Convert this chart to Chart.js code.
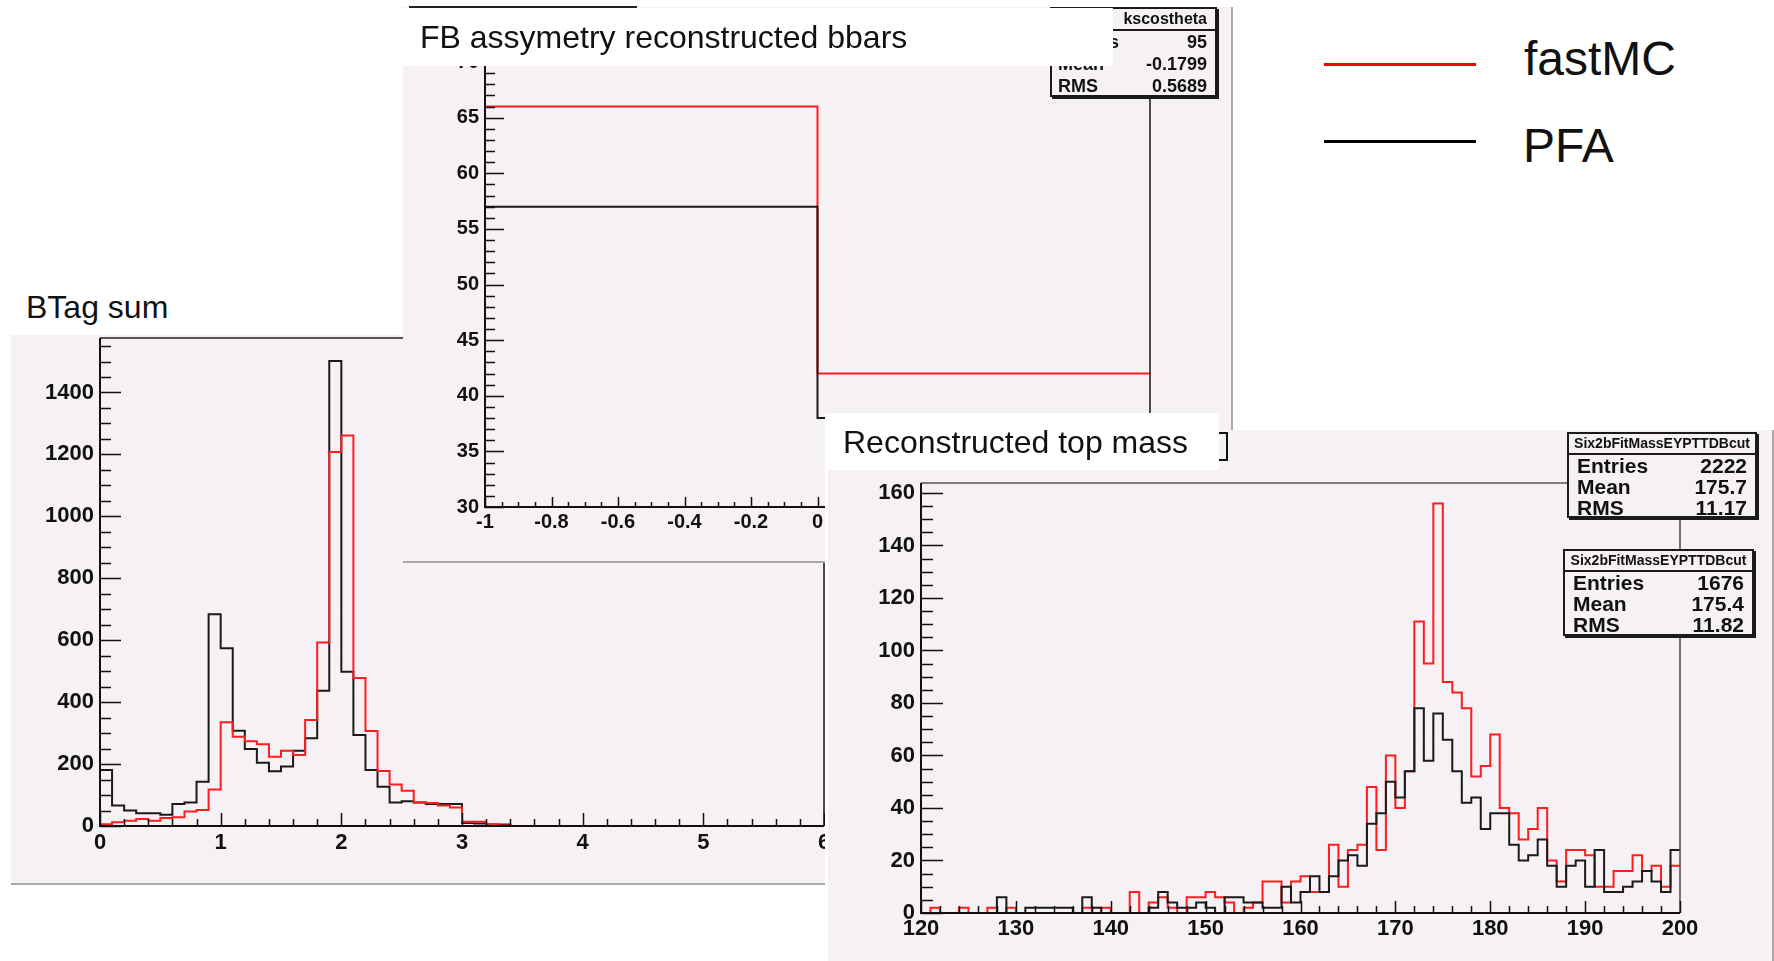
<!DOCTYPE html>
<html>
<head>
<meta charset="utf-8">
<script src="https://cdn.jsdelivr.net/npm/chart.js@4.4.1/dist/chart.umd.min.js"></script>
<style>
  body { margin: 0; width: 1774px; height: 961px; overflow: hidden; position: relative; background: #fff;
         font-family: "Liberation Sans", Arial, Helvetica, sans-serif; color: #111; }
  .abs { position: absolute; }
  .pink { background: #f5f1f5; }
  .title { position: absolute; white-space: nowrap; font-size: 32px; line-height: 32px; color: #111; }
  .stats { position: absolute; background: #f5f1f5; border: 2px solid #1a1a1a; box-shadow: 2px 2px 0 #1a1a1a;
           font-weight: bold; color: #111; box-sizing: border-box; }
  .stats .head { border-bottom: 2px solid #1a1a1a; text-align: center; white-space: nowrap; overflow: hidden; }
  .stats .row { display: flex; justify-content: space-between; white-space: nowrap; }
  .legtext { position: absolute; font-size: 48px; line-height: 48px; white-space: nowrap; color: #111; }
</style>
</head>
<body>

<!-- BTag sum -->
<div class="title" style="left:26px; top:291px; z-index:1;">BTag sum</div>
<div class="abs pink" style="left:11px; top:335px; width:839px; height:548px; border-bottom:2px solid #a8a8a8; z-index:1;">
  <canvas id="btag" width="839" height="548" style="position:absolute; left:0; top:0;"></canvas>
</div>

<!-- FB asymmetry -->
<div class="abs pink" style="left:403px; top:7px; width:828px; height:554px; border-right:2px solid #a8a8a8; border-bottom:2px solid #a8a8a8; z-index:2;">
  <canvas id="fb" width="828" height="554" style="position:absolute; left:0; top:0;"></canvas>
</div>
<div class="stats" style="left:1050px; top:7px; width:167px; height:90px; z-index:4;">
  <div class="head" style="height:20px; font-size:16px; line-height:20px; text-align:right; padding-right:8px;">kscostheta</div>
  <div class="row" style="font-size:18px; line-height:22px; padding:0 8px 0 6px;"><span>Entries</span><span>95</span></div>
  <div class="row" style="font-size:18px; line-height:22px; padding:0 8px 0 6px;"><span>Mean</span><span>-0.1799</span></div>
  <div class="row" style="font-size:18px; line-height:22px; padding:0 8px 0 6px;"><span>RMS</span><span>0.5689</span></div>
</div>
<div class="abs" style="left:403px; top:8px; width:710px; height:58px; background:#fff; z-index:5;"></div>
<div class="abs" style="left:409px; top:6px; width:228px; height:2px; background:#222; z-index:5;"></div>
<div class="title" style="left:420px; top:21px; z-index:5;">FB assymetry reconstructed bbars</div>

<!-- Reconstructed top mass -->
<div class="abs" style="left:825px; top:430px; width:949px; height:531px; background:#fff; z-index:6;">
  <div class="abs pink" style="left:3px; top:0; width:944px; height:531px; border-right:2px solid #a8a8a8;">
    <canvas id="topmass" width="944" height="531" style="position:absolute; left:0; top:0;"></canvas>
  </div>
</div>
<div class="stats" style="left:1567px; top:432px; width:190px; height:86px; z-index:8;">
  <div class="head" style="height:19px; font-size:14px; line-height:19px;">Six2bFitMassEYPTTDBcut</div>
  <div class="row" style="font-size:21px; line-height:21px; padding:0 8px 0 8px;"><span>Entries</span><span>2222</span></div>
  <div class="row" style="font-size:21px; line-height:21px; padding:0 8px 0 8px;"><span>Mean</span><span>175.7</span></div>
  <div class="row" style="font-size:21px; line-height:21px; padding:0 8px 0 8px;"><span>RMS</span><span>11.17</span></div>
</div>
<div class="stats" style="left:1563px; top:549px; width:191px; height:87px; z-index:8;">
  <div class="head" style="height:19px; font-size:14px; line-height:19px;">Six2bFitMassEYPTTDBcut</div>
  <div class="row" style="font-size:21px; line-height:21px; padding:0 8px 0 8px;"><span>Entries</span><span>1676</span></div>
  <div class="row" style="font-size:21px; line-height:21px; padding:0 8px 0 8px;"><span>Mean</span><span>175.4</span></div>
  <div class="row" style="font-size:21px; line-height:21px; padding:0 8px 0 8px;"><span>RMS</span><span>11.82</span></div>
</div>
<div class="abs" style="left:825px; top:413px; width:394px; height:57px; background:#fff; z-index:9;"></div>
<div class="title" style="left:843px; top:426px; z-index:9;">Reconstructed top mass</div>
<div class="abs" style="left:1219px; top:432px; width:7px; height:25px; border:2px solid #111; border-left:none; z-index:9;"></div>

<!-- legend -->
<div class="abs" style="left:1324px; top:63px; width:152px; height:3px; background:#ff0000; z-index:10;"></div>
<div class="abs" style="left:1324px; top:140px; width:152px; height:3px; background:#000; z-index:10;"></div>
<div class="legtext" style="left:1524px; top:35px; z-index:10;">fastMC</div>
<div class="legtext" style="left:1523px; top:122px; z-index:10;">PFA</div>

<script>
// ---- BTag sum: 60 bins of width 0.1 from 0 ----
const btagStart = 0;
const btagWidth = 0.1;
const btagPFA = [181, 66, 50, 41, 41, 36, 71, 76, 143, 684,
                 574, 308, 249, 204, 177, 192, 243, 283, 437, 1502,
                 498, 294, 181, 127, 76, 80, 76, 71, 71, 71,
                 10, 8, 5, 5, 0, 0, 0, 0, 0, 0,
                 0, 0, 0, 0, 0, 0, 0, 0, 0, 0,
                 0, 0, 0, 0, 0, 0, 0, 0, 0, 0];
const btagFastMC = [6, 12, 17, 23, 17, 26, 28, 47, 52, 118,
                    335, 288, 274, 264, 224, 243, 229, 342, 593, 1208,
                    1261, 478, 307, 178, 134, 114, 76, 74, 66, 60,
                    14, 14, 6, 2, 0, 0, 0, 0, 0, 0,
                    0, 0, 0, 0, 0, 0, 0, 0, 0, 0,
                    0, 0, 0, 0, 0, 0, 0, 0, 0, 0];
const btagXTicks = [0, 1, 2, 3, 4, 5, 6];
const btagYTicks = [0, 200, 400, 600, 800, 1000, 1200, 1400];

// ---- FB asymmetry: 2 bins of width 1 from -1 ----
const fbStart = -1;
const fbWidth = 1;
const fbPFA = [57, 38];
const fbFastMC = [66, 42];
const fbXTicks = [-1, -0.8, -0.6, -0.4, -0.2, 0, 0.2, 0.4, 0.6, 0.8, 1];
const fbYTicks = [30, 35, 40, 45, 50, 55, 60, 65, 70];

// ---- Reconstructed top mass: 80 bins of width 1 from 120 ----
const topStart = 120;
const topWidth = 1;
const topPFA = [0, 0, 0, 0, 0, 0, 0, 0, 6, 0,
                0, 2, 2, 2, 2, 2, 0, 6, 2, 0,
                0, 0, 0, 0, 2, 8, 4, 2, 2, 4,
                2, 0, 6, 6, 4, 4, 2, 2, 10, 4,
                8, 14, 8, 14, 20, 22, 18, 34, 38, 50,
                44, 54, 78, 58, 76, 66, 54, 42, 44, 32,
                38, 38, 26, 20, 22, 28, 18, 10, 18, 20,
                10, 24, 8, 8, 10, 12, 16, 12, 8, 24];
const topFastMC = [0, 2, 0, 0, 2, 0, 0, 2, 0, 2,
                   0, 0, 0, 0, 0, 0, 0, 2, 0, 2,
                   0, 0, 8, 0, 4, 6, 2, 0, 6, 6,
                   8, 6, 4, 0, 2, 4, 12, 12, 4, 12,
                   14, 8, 8, 26, 10, 24, 26, 48, 24, 60,
                   40, 54, 111, 95, 156, 88, 84, 78, 52, 56,
                   68, 40, 38, 28, 32, 40, 20, 12, 24, 24,
                   22, 10, 10, 16, 16, 22, 16, 18, 10, 18];
const topXTicks = [120, 130, 140, 150, 160, 170, 180, 190, 200];
const topYTicks = [0, 20, 40, 60, 80, 100, 120, 140, 160];

Chart.defaults.font.family = "'Liberation Sans', Arial, Helvetica, sans-serif";
Chart.defaults.color = '#111';

// left edge of every bin, plus the closing right edge
const histPoints = function (start, width, values) {
  const pts = values.map((v, i) => ({ x: start + i * width, y: v }));
  pts.push({ x: start + values.length * width, y: values[values.length - 1] });
  return pts;
};

// ROOT-like frame: axes, inner major/minor ticks
const rootAxes = {
  id: 'rootAxes',
  afterDatasetsDraw(chart, args, o) {
    const { ctx, chartArea: a } = chart;
    const x = chart.scales.x, y = chart.scales.y;
    ctx.save();
    ctx.lineCap = 'butt';
    ctx.strokeStyle = o.frameColor;
    ctx.lineWidth = 1.6;
    ctx.beginPath();
    ctx.moveTo(a.left, a.top);
    ctx.lineTo(a.right, a.top);
    ctx.lineTo(a.right, a.bottom);
    ctx.stroke();

    ctx.strokeStyle = '#111';
    ctx.lineWidth = 2;
    ctx.beginPath();
    ctx.moveTo(a.left, a.top);
    ctx.lineTo(a.left, a.bottom);
    ctx.lineTo(a.right, a.bottom);
    ctx.stroke();

    const isMajor = (scale, v, step) => scale.ticks.some(t => Math.abs(t.value - v) < step / 100);
    ctx.lineWidth = 1.5;
    ctx.beginPath();
    let n = Math.round((x.max - x.min) / o.xMinor);
    for (let i = 0; i <= n; i++) {
      const v = x.min + i * o.xMinor;
      const px = Math.round(x.getPixelForValue(v)) + 0.5;
      const len = isMajor(x, v, o.xMinor) ? o.xMajorLen : o.xMinorLen;
      ctx.moveTo(px, a.bottom);
      ctx.lineTo(px, a.bottom - len);
    }
    n = Math.floor((y.max - y.min) / o.yMinor + 1e-6);
    for (let i = 0; i <= n; i++) {
      const v = y.min + i * o.yMinor;
      const py = Math.round(y.getPixelForValue(v)) + 0.5;
      const len = isMajor(y, v, o.yMinor) ? o.yMajorLen : o.yMinorLen;
      ctx.moveTo(a.left, py);
      ctx.lineTo(a.left + len, py);
    }
    ctx.stroke();
    ctx.restore();
  }
};

const drawHist = function (id, o) {
  const base = { stepped: true, borderWidth: 2, pointRadius: 0, fill: false, tension: 0 };
  const config = {
    type: 'line',
    data: {
      datasets: [
        Object.assign({ label: 'fastMC', data: histPoints(o.start, o.width, o.red),
                        borderColor: '#ff1c1c', order: o.redOnTop ? 0 : 1 }, base),
        Object.assign({ label: 'PFA', data: histPoints(o.start, o.width, o.black),
                        borderColor: '#1a1a1a', order: o.redOnTop ? 1 : 0 }, base),
      ],
    },
    options: {
      responsive: false,
      animation: false,
      layout: { padding: { top: o.padTop, right: o.padRight, left: 0, bottom: 0 } },
      plugins: {
        legend: { display: false },
        tooltip: { enabled: false },
        rootAxes: o.axes,
      },
      scales: {
        x: {
          type: 'linear',
          min: o.xMin,
          max: o.xMax,
          afterBuildTicks: (s) => { s.ticks = o.xTicks.map(v => ({ value: v })); },
          afterFit: (s) => { s.height = o.xHeight; s.paddingLeft = 0; s.paddingRight = 0; },
          grid: { display: false, drawTicks: false },
          border: { display: false },
          ticks: {
            autoSkip: false, maxRotation: 0, padding: o.xPad,
            font: { size: o.fontSize, weight: 'bold' },
            callback: (v) => String(v),
          },
        },
        y: {
          type: 'linear',
          min: o.yMin,
          max: o.yMax,
          afterBuildTicks: (s) => { s.ticks = o.yTicks.map(v => ({ value: v })); },
          afterFit: (s) => { s.width = o.yWidth; s.paddingTop = 0; s.paddingBottom = 0; },
          grid: { display: false, drawTicks: false },
          border: { display: false },
          ticks: {
            autoSkip: false, padding: 6,
            font: { size: o.fontSize, weight: 'bold' },
            callback: (v) => String(v),
          },
        },
      },
    },
    plugins: [rootAxes],
  };
  return new Chart(document.getElementById(id), config);
};

const btagChart = drawHist('btag', {
  start: btagStart, width: btagWidth, black: btagPFA, red: btagFastMC, redOnTop: true,
  xMin: 0, xMax: 6, yMin: 0, yMax: 1576, xTicks: btagXTicks, yTicks: btagYTicks,
  padTop: 3, padRight: 26, yWidth: 89, xHeight: 57, xPad: 4, fontSize: 22,
  axes: { frameColor: '#222', xMinor: 0.2, xMajorLen: 13, xMinorLen: 7, yMinor: 50, yMajorLen: 21, yMinorLen: 11 },
});

const fbChart = drawHist('fb', {
  start: fbStart, width: fbWidth, black: fbPFA, red: fbFastMC, redOnTop: false,
  xMin: -1, xMax: 1, yMin: 30, yMax: 70, xTicks: fbXTicks, yTicks: fbYTicks,
  padTop: 55, padRight: 81, yWidth: 82, xHeight: 54, xPad: 3, fontSize: 20,
  axes: { frameColor: '#222', xMinor: 0.05, xMajorLen: 10, xMinorLen: 5, yMinor: 1, yMajorLen: 19, yMinorLen: 10 },
});

const topChart = drawHist('topmass', {
  start: topStart, width: topWidth, black: topPFA, red: topFastMC, redOnTop: false,
  xMin: 120, xMax: 200, yMin: 0, yMax: 163.8, xTicks: topXTicks, yTicks: topYTicks,
  padTop: 53, padRight: 92, yWidth: 93, xHeight: 48, xPad: 3, fontSize: 22,
  axes: { frameColor: '#555', xMinor: 2, xMajorLen: 12, xMinorLen: 7, yMinor: 5, yMajorLen: 22, yMinorLen: 12 },
});
</script>
</body>
</html>
